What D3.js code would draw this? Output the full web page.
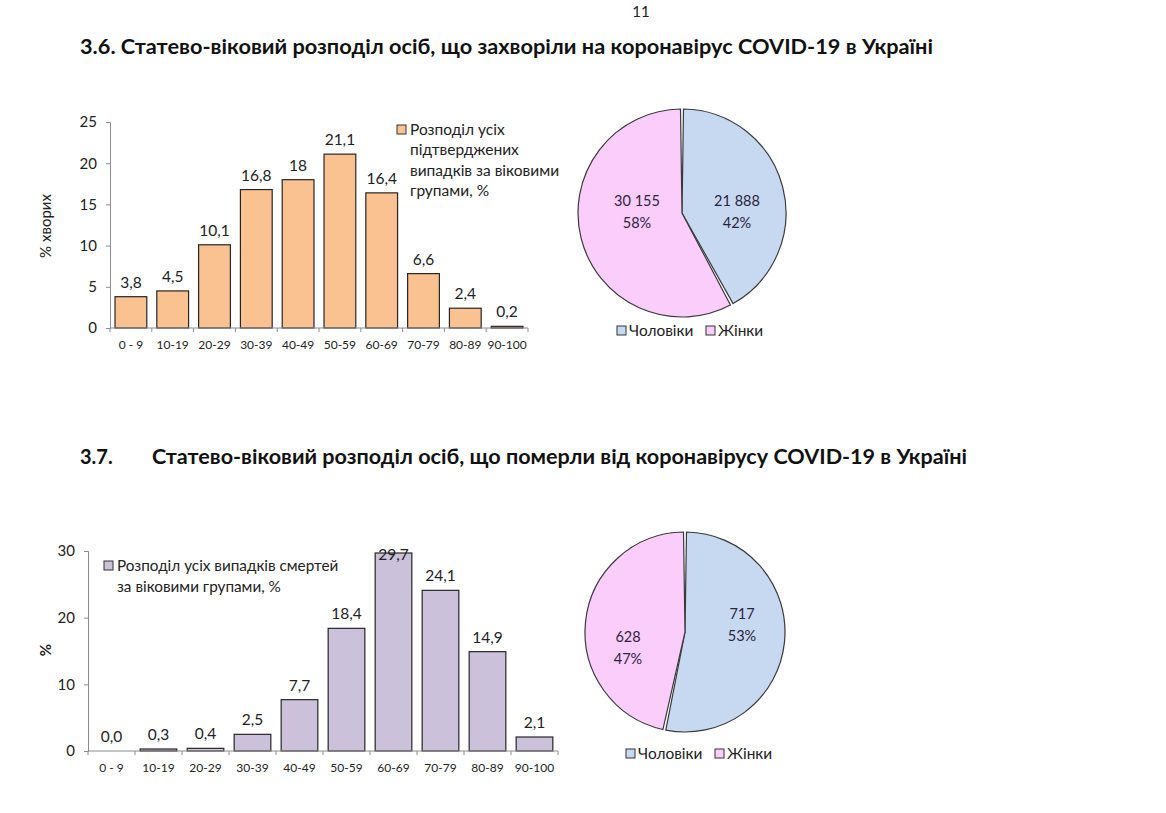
<!DOCTYPE html>
<html><head><meta charset="utf-8">
<script src="https://cdn.jsdelivr.net/npm/d3@7"></script>
<style>
body{margin:0;background:#fff;}
svg{font-family:Lato,"Open Sans",sans-serif;}
</style></head>
<body>
<svg id="c" width="1166" height="813"></svg>
<script>
const ageGroups = ["0 - 9","10-19","20-29","30-39","40-49","50-59","60-69","70-79","80-89","90-100"];
const casesPct = [3.8,4.5,10.1,16.8,18,21.1,16.4,6.6,2.4,0.2];
const deathsPct = [0.0,0.3,0.4,2.5,7.7,18.4,29.7,24.1,14.9,2.1];
const casesTicks = [0,5,10,15,20,25];
const deathsTicks = [0,10,20,30];
const sexLabels = ["Чоловіки","Жінки"];
const casesBySex = [21888,30155];
const deathsBySex = [717,628];
const sexColors = ["#c6d9f0","#fbcdfb"];

const svg = d3.select("#c");
const textCol = "#222";

// page number & titles
svg.append("text").attr("x",641).attr("y",17).attr("text-anchor","middle")
  .attr("font-size",15).attr("fill",textCol).text("11");
svg.append("text").attr("x",80).attr("y",54).attr("font-size",20).attr("font-weight","bold")
  .attr("fill","#111").attr("textLength",853).attr("lengthAdjust","spacingAndGlyphs")
  .text("3.6.  Статево-віковий розподіл осіб, що захворіли на коронавірус COVID-19 в Україні");
svg.append("text").attr("x",80).attr("y",464).attr("font-size",20).attr("font-weight","bold")
  .attr("fill","#111").text("3.7.");
svg.append("text").attr("x",152).attr("y",464).attr("font-size",20).attr("font-weight","bold")
  .attr("fill","#111").attr("textLength",815).attr("lengthAdjust","spacingAndGlyphs")
  .text("Статево-віковий розподіл осіб, що померли від коронавірусу COVID-19 в Україні");

function fmt(v, fixed){ return (fixed ? v.toFixed(1) : String(v)).replace(".",","); }

function barChart(o){
  const g = svg.append("g");
  const x = d3.scaleBand().domain(ageGroups).range([o.x0,o.x1]).paddingInner(o.pad).paddingOuter(o.pad/2);
  const y = d3.scaleLinear().domain([0,o.max]).range([o.y0,o.y1]);
  // y axis
  const ya = g.append("g").attr("transform",`translate(${o.x0},0)`)
    .call(d3.axisLeft(y).tickValues(o.ticks).tickSize(4).tickPadding(9).tickFormat(d=>d));
  ya.select(".domain").attr("stroke","#8c8c8c");
  ya.selectAll(".tick line").attr("stroke","#8c8c8c");
  ya.selectAll(".tick text").attr("font-size",15).attr("fill",textCol).attr("font-family","Lato");
  // bars
  g.selectAll("rect.b").data(o.data).join("rect").attr("class","b")
    .attr("x",(d,i)=>x(ageGroups[i])).attr("width",x.bandwidth())
    .attr("y",d=>y(d)).attr("height",d=>o.y0-y(d))
    .attr("fill",o.color).attr("stroke","#262626").attr("stroke-width",1.2);
  // x axis
  g.append("line").attr("x1",o.x0).attr("x2",o.x1).attr("y1",o.y0).attr("y2",o.y0).attr("stroke","#8c8c8c");
  const step = (o.x1-o.x0)/ageGroups.length;
  d3.range(ageGroups.length+1).forEach(i=>{
    g.append("line").attr("x1",o.x0+i*step).attr("x2",o.x0+i*step).attr("y1",o.y0).attr("y2",o.y0+4).attr("stroke","#8c8c8c");
  });
  g.selectAll("text.cat").data(ageGroups).join("text").attr("class","cat")
    .attr("x",d=>x(d)+x.bandwidth()/2).attr("y",o.y0+21).attr("text-anchor","middle")
    .attr("font-size",12).attr("fill",textCol).text(d=>d);
  // value labels
  g.selectAll("text.val").data(o.data).join("text").attr("class","val")
    .attr("x",(d,i)=>x(ageGroups[i])+x.bandwidth()/2).attr("y",d=>Math.max(y(d)-o.lblOff,o.lblMinY))
    .attr("text-anchor","middle").attr("font-size",15.5).attr("fill",textCol).text(d=>fmt(d,o.fixed));
  return g;
}

// top bar chart
barChart({x0:110,x1:528,y0:328,y1:122,max:25,ticks:casesTicks,data:casesPct,color:"#fac191",pad:0.24,lblOff:9,lblMinY:0,fixed:false});
svg.append("text").attr("transform","translate(51,226) rotate(-90)").attr("text-anchor","middle")
  .attr("font-size",15).attr("fill",textCol).text("% хворих");
svg.append("rect").attr("x",397).attr("y",125).attr("width",9).attr("height",9)
  .attr("fill","#fac191").attr("stroke","#333");
["Розподіл усіх","підтверджених","випадків за віковими","групами, %"].forEach((t,i)=>{
  svg.append("text").attr("x",410).attr("y",135+i*20.3).attr("font-size",15.5).attr("fill",textCol).text(t);
});

// bottom bar chart
barChart({x0:88,x1:558,y0:751,y1:551,max:30,ticks:deathsTicks,data:deathsPct,color:"#ccc1da",pad:0.22,lblOff:9,lblMinY:560,fixed:true});
svg.append("text").attr("transform","translate(51,650) rotate(-90)").attr("text-anchor","middle")
  .attr("font-size",15).attr("font-weight","bold").attr("fill",textCol).text("%");
svg.append("rect").attr("x",104).attr("y",561).attr("width",9).attr("height",9)
  .attr("fill","#ccc1da").attr("stroke","#333");
svg.append("text").attr("x",117).attr("y",571).attr("font-size",15.3).attr("fill",textCol).text("Розподіл усіх випадків смертей");
svg.append("text").attr("x",117).attr("y",592).attr("font-size",15.3).attr("fill",textCol).text("за віковими групами, %");

// pies
function pie(o){
  const g = svg.append("g").attr("transform",`translate(${o.cx},${o.cy})`);
  const arcs = d3.pie().sort(null).value(d=>d)(o.data);
  const arc = d3.arc().innerRadius(0).outerRadius(o.r).padAngle(0.03).padRadius(100);
  g.selectAll("path").data(arcs).join("path").attr("d",arc)
    .attr("fill",(d,i)=>sexColors[i]).attr("stroke","#3a3a3a").attr("stroke-width",1.2);
  const total = d3.sum(o.data);
  const fmtN = v => d3.format(",")(v).replace(/,/g," ");
  arcs.forEach((a,i)=>{
    const [lx,ly] = o.lbl[i];
    svg.append("text").attr("x",lx).attr("y",ly).attr("text-anchor","middle").attr("font-size",14.5)
      .attr("fill","#2b2440").text(fmtN(o.data[i]));
    svg.append("text").attr("x",lx).attr("y",ly+22).attr("text-anchor","middle").attr("font-size",14.5)
      .attr("fill","#2b2440").text(Math.round(o.data[i]/total*100)+"%");
  });
  // legend
  o.leg.forEach((lx,i)=>{
    svg.append("rect").attr("x",lx).attr("y",o.ly-9).attr("width",9).attr("height",9)
      .attr("fill",sexColors[i]).attr("stroke","#333");
    svg.append("text").attr("x",lx+12).attr("y",o.ly+1).attr("font-size",15.4).attr("fill",textCol).text(sexLabels[i]);
  });
}
pie({cx:682,cy:213,r:104,data:casesBySex,lbl:[[737,206],[637,206]],leg:[617,706],ly:335});
pie({cx:685,cy:632,r:100,data:deathsBySex,lbl:[[742,619],[628,642]],leg:[626,715],ly:758});
</script>
</body></html>
